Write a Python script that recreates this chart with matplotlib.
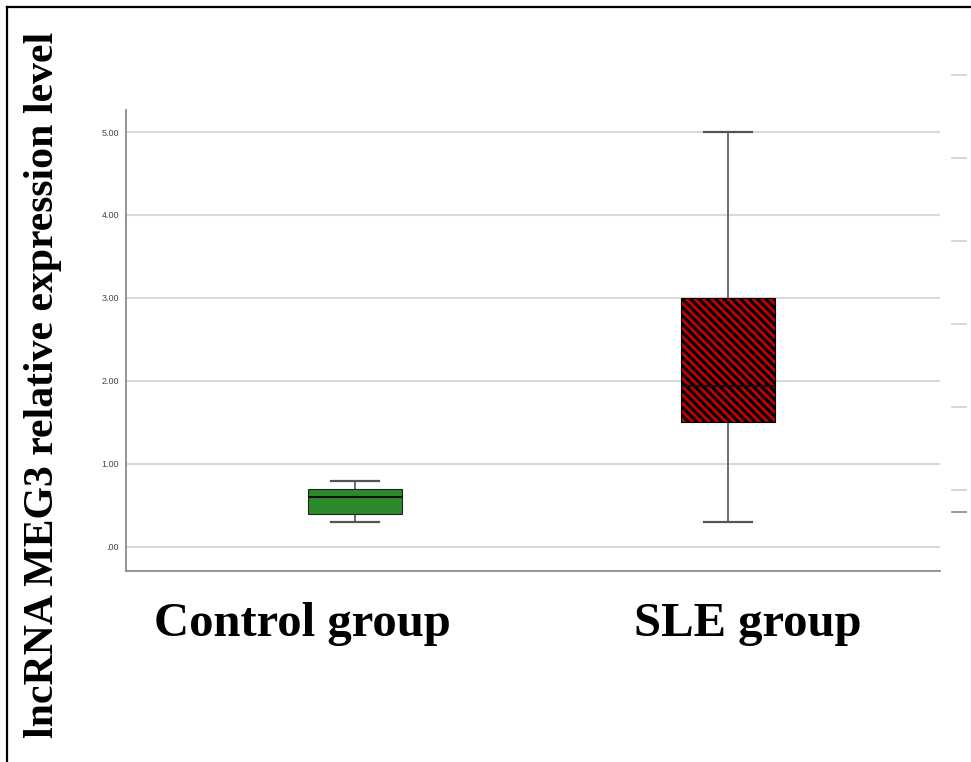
import matplotlib
matplotlib.use("Agg")
import matplotlib.pyplot as plt
from matplotlib.lines import Line2D
from matplotlib.transforms import ScaledTranslation

# Group labels and five-number summaries of lncRNA MEG3 expression
groups = ["Control group", "SLE group"]
whisker_low = [0.30, 0.30]
q1 = [0.40, 1.50]
median = [0.60, 1.94]
q3 = [0.70, 3.00]
whisker_high = [0.80, 5.00]

y_ticks = [0, 1, 2, 3, 4, 5]
y_tick_labels = [".00", "1.00", "2.00", "3.00", "4.00", "5.00"]

box_colors = ["#2b8a2b", "#c40000"]
box_hatches = [None, "\\\\\\\\"]

plt.rcParams["hatch.linewidth"] = 2.2

fig = plt.figure(figsize=(9.71, 7.62), dpi=100)
ax = fig.add_axes([0.1298, 0.2507, 0.968 - 0.1298, 0.8556 - 0.2507])

stats = []
for i, g in enumerate(groups):
    stats.append(dict(label=g, whislo=whisker_low[i], q1=q1[i], med=median[i],
                      q3=q3[i], whishi=whisker_high[i], fliers=[]))

positions = [1, 2]
bp = ax.bxp(stats, positions=positions, widths=0.252, patch_artist=True,
            showfliers=False, capwidths=0.13,
            whiskerprops=dict(color="#555555", linewidth=1.2),
            capprops=dict(color="#555555", linewidth=1.6),
            medianprops=dict(color="#111111", linewidth=1.5),
            boxprops=dict(linewidth=0.8))
for patch, fc, h in zip(bp["boxes"], box_colors, box_hatches):
    patch.set_facecolor(fc)
    patch.set_edgecolor("#222222" if h is None else "#000000")
    if h:
        patch.set_hatch(h)
for w in bp["whiskers"]:
    w.set_zorder(1)

ax.set_xlim(0.386, 2.568)
ax.set_ylim(-0.29, 5.265)
ax.set_yticks(y_ticks)
ax.set_yticklabels(y_tick_labels, fontsize=6.5, color="#444444",
                   family="Liberation Sans")
ax.tick_params(axis="y", length=0, pad=5)
ax.set_xticks(positions)
ax.set_xticklabels(groups, fontsize=35, fontweight="bold",
                   family="Liberation Serif", color="black")
ax.tick_params(axis="x", length=0, pad=22)
# Category labels sit a little off the box centres
label_shifts = [-0.53, 0.20]
for lab, dx in zip(ax.get_xticklabels(), label_shifts):
    lab.set_transform(lab.get_transform() +
                      ScaledTranslation(dx, 0, fig.dpi_scale_trans))

ax.yaxis.grid(True, color="#d9d9d9", linewidth=1.5)
ax.set_axisbelow(True)
for side in ["top", "right"]:
    ax.spines[side].set_visible(False)
for side in ["left", "bottom"]:
    ax.spines[side].set_color("#8c8c8c")
    ax.spines[side].set_linewidth(1.3)

fig.text(0.044, 0.4955, "lncRNA MEG3 relative expression level",
         rotation=90, ha="center", va="center", fontsize=30.1,
         fontweight="bold", family="Liberation Serif", color="black")

# Frame lines along the top and left edges
W, H = 971, 762
fig.add_artist(Line2D([7 / W, 1.0], [1 - 7 / H, 1 - 7 / H],
                      transform=fig.transFigure, color="black", linewidth=1.6))
fig.add_artist(Line2D([7 / W, 7 / W], [0.0, 1 - 7 / H],
                      transform=fig.transFigure, color="black", linewidth=1.6))

# Short tick marks of the neighbouring scale at the right edge
for yp in [75, 158, 241, 324, 407, 490]:
    fig.add_artist(Line2D([952 / W, 966 / W], [1 - yp / H, 1 - yp / H],
                          transform=fig.transFigure, color="#d0d0d0",
                          linewidth=1.2))
fig.add_artist(Line2D([952 / W, 966 / W], [1 - 512 / H, 1 - 512 / H],
                      transform=fig.transFigure, color="#888888", linewidth=1.2))

fig.savefig("out.png", dpi=100)
